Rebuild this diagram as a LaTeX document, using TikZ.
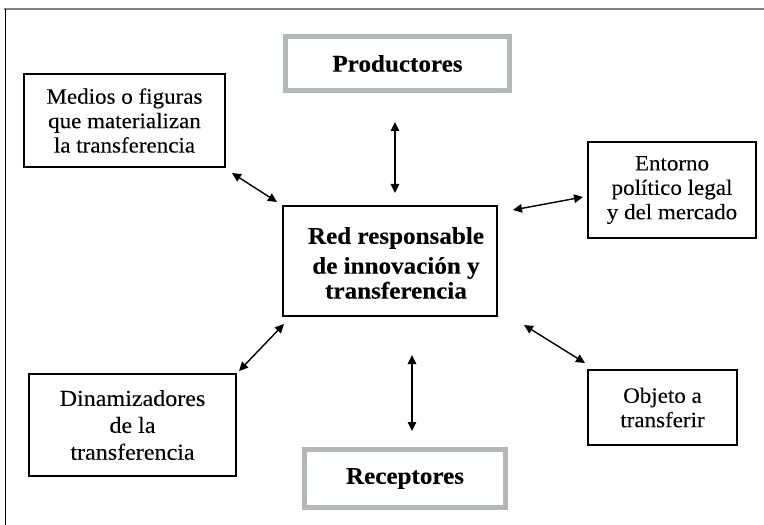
\documentclass[tikz,border=0pt]{standalone}
\usepackage{fontspec}
\setmainfont{Liberation Serif}[FakeStretch=1.05, UprightFeatures={FakeBold=0.12}, BoldFeatures={FakeBold=0.15}]
\usetikzlibrary{arrows.meta}
\definecolor{boxgray}{HTML}{B4B8B8}
\definecolor{framegray}{HTML}{7F7F7F}
\begin{document}
\begin{tikzpicture}[x=1bp,y=-1bp,
  plain/.style={draw=black, line width=1.2bp, inner sep=0pt, align=center,
    font=\fontsize{22}{24.5}\selectfont},
  grayb/.style={draw=boxgray, line width=5bp, inner sep=0pt, align=center,
    font=\bfseries\fontsize{24}{27}\selectfont},
  boldtext/.style={inner sep=0pt, align=center, font=\bfseries\fontsize{24}{25}\selectfont},
  arr/.style={{Triangle[length=9bp,width=8.5bp]}-{Triangle[length=9bp,width=8.5bp]}, line width=1.4bp}]
\useasboundingbox (0,0) rectangle (764,525);
% outer frame
\draw[framegray, line width=2bp] (4,9) -- (764,9);
\draw[black, line width=1bp] (5,9) -- (5,525);
% nodes
\node[grayb, minimum width=224bp, minimum height=54bp] (prod) at (397.5,63.5) {Productores};
\node[grayb, minimum width=201bp, minimum height=58bp] (rec) at (405,478.5) {Receptores};
\node[plain, minimum width=201bp, minimum height=93bp] (med) at (124.5,120.5) {\raisebox{-3bp}{\parbox{195bp}{\centering Medios o figuras\\ que materializan\\ la transferencia}}};
\node[plain, minimum width=168bp, minimum height=96bp] (ent) at (672,190) {Entorno\\ político legal\\ y del mercado};
\node[draw=black, line width=1.2bp, minimum width=214bp, minimum height=110bp] (red) at (390,261) {};
\node[boldtext] (redt) at (396,263) {Red responsable\\[5bp] de innovación y\\ transferencia};
\node[plain, minimum width=207bp, minimum height=102bp, font=\fontsize{23}{27}\selectfont] (din) at (132.5,425) {Dinamizadores\\ de la\\ transferencia};
\node[plain, minimum width=149bp, minimum height=75bp] (obj) at (662.5,407.5) {Objeto a\\ transferir};
% connector end points
\coordinate (pA) at (395,122);
\coordinate (pB) at (395,193);
\coordinate (mA) at (232,173);
\coordinate (mB) at (277,202);
\coordinate (eA) at (513,210);
\coordinate (eB) at (583,197);
\coordinate (dA) at (284,324);
\coordinate (dB) at (239,371);
\coordinate (oA) at (524,325);
\coordinate (oB) at (585,363);
\coordinate (rA) at (412,355);
\coordinate (rB) at (412,431);
% connectors
\draw[arr] (pA) -- (pB);
\draw[arr] (mA) -- (mB);
\draw[arr] (eA) -- (eB);
\draw[arr] (dA) -- (dB);
\draw[arr] (oA) -- (oB);
\draw[arr] (rA) -- (rB);
\end{tikzpicture}
\end{document}
